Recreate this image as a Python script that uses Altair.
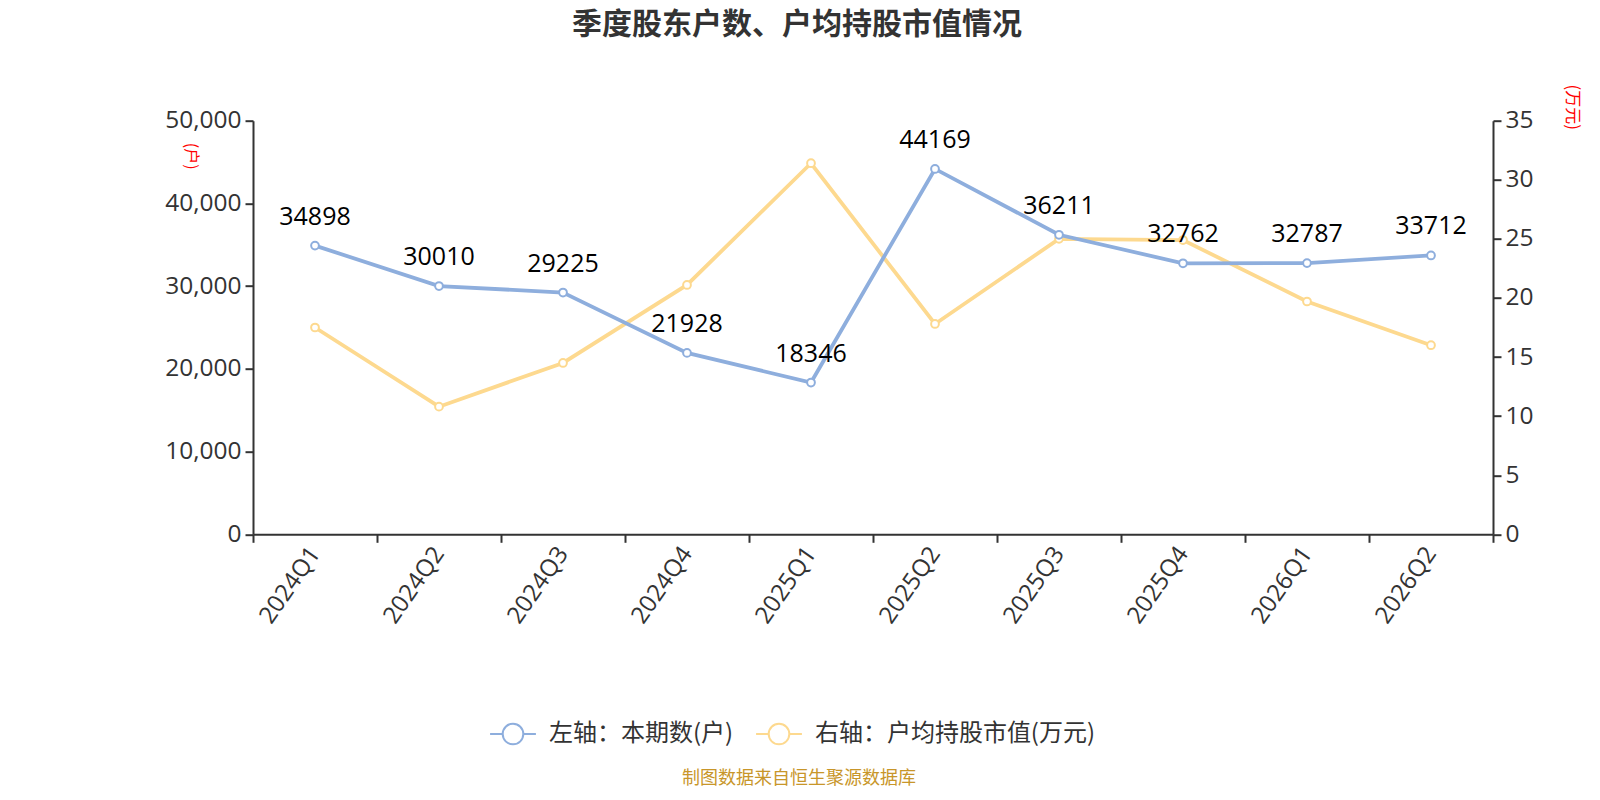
import altair as alt
import pandas as pd

quarters = ["2024Q1", "2024Q2", "2024Q3", "2024Q4", "2025Q1", "2025Q2", "2025Q3", "2025Q4", "2026Q1", "2026Q2"]
holders = [34898, 30010, 29225, 21928, 18346, 44169, 36211, 32762, 32787, 33712]
avg_value = [17.5, 10.8, 14.5, 21.1, 31.4, 17.8, 25.0, 24.9, 19.7, 16.0]

s_left = "左轴：本期数(户)"
s_right = "右轴：户均持股市值(万元)"
title_text = "季度股东户数、户均持股市值情况"
source_text = "制图数据来自恒生聚源数据库"

df_left = pd.DataFrame({"q": quarters, "v": holders, "s": s_left})
df_right = pd.DataFrame({"q": quarters, "v": avg_value, "s": s_right})

FONT = "Noto Sans CJK SC"
NUMFONT = "Open Sans"
BLUE = "#8eaedd"
YELLOW = "#fdd98f"

color = alt.Color("s:N", scale=alt.Scale(domain=[s_left, s_right], range=[BLUE, YELLOW]),
                  legend=alt.Legend(title=None, orient="none", direction="horizontal",
                                    legendX=236, legendY=589, labelFontSize=24, labelColor="#333",
                                    labelFont=FONT, columnPadding=18, symbolSize=2100, labelLimit=500,
                                    symbolType="M-1,0L-0.45,0M0.45,0L1,0M0.45,0A0.45,0.45,0,1,1,-0.45,0A0.45,0.45,0,1,1,0.45,0",
                                    symbolStrokeWidth=2, symbolFillColor="white", labelOffset=12))

x = alt.X("q:N", sort=quarters, title=None,
          scale=alt.Scale(paddingInner=0, paddingOuter=0),
          axis=alt.Axis(labelAngle=-55, labelFontSize=24, labelColor="#333", labelFont=NUMFONT,
                        tickBand="extent", domainColor="#333", tickColor="#333", tickSize=8,
                        domainWidth=2, tickWidth=2, labelPadding=7, grid=False))

yl = alt.Y("v:Q", scale=alt.Scale(domain=[0, 50000]),
           axis=alt.Axis(title="(户)", titleAngle=90, titleX=-71, titleY=35, titleColor="red",
                         titleFontSize=16, titleFontWeight="normal", titleFont=FONT,
                         values=[0, 10000, 20000, 30000, 40000, 50000], format=",.0f",
                         labelFontSize=24.5, labelColor="#333", labelFont=NUMFONT,
                         domainColor="#333", tickColor="#333", tickSize=8, domainWidth=2, tickWidth=2,
                         gridColor="#c8c8c8", gridWidth=1.5, labelPadding=4))

yr = alt.Y("v:Q", scale=alt.Scale(domain=[0, 35]),
           axis=alt.Axis(orient="right", title="(万元)", titleAngle=90, titleX=70, titleY=-14,
                         titleColor="red", titleFontSize=17, titleFontWeight="normal", titleFont=FONT,
                         values=[0, 5, 10, 15, 20, 25, 30, 35], format=".0f",
                         labelFontSize=24.5, labelColor="#333", labelFont=NUMFONT, grid=False,
                         domainColor="#333", tickColor="#333", tickSize=8, domainWidth=2, tickWidth=2,
                         labelPadding=4))

base_l = alt.Chart(df_left)
left = alt.layer(
    base_l.mark_line(strokeWidth=3.8).encode(x=x, y=yl, color=color),
    base_l.mark_point(filled=False, fill="white", size=60, strokeWidth=2, opacity=1).encode(x=x, y=yl, color=color),
    base_l.mark_text(fontSize=25, dy=-29, color="black", font=NUMFONT).encode(x=x, y=yl, text="v:Q"),
)

base_r = alt.Chart(df_right)
right = alt.layer(
    base_r.mark_line(strokeWidth=3.8).encode(x=x, y=yr, color=color),
    base_r.mark_point(filled=False, fill="white", size=60, strokeWidth=2, opacity=1).encode(x=x, y=yr, color=color),
)

source = alt.Chart(pd.DataFrame({"t": [source_text]})).mark_text(
    fontSize=18, color="#c8962a", font=FONT).encode(
    text="t:N", x=alt.value(546), y=alt.value(658))

chart = alt.layer(right, left, source).resolve_scale(y="independent").properties(
    width=1240, height=413.6,
    autosize=alt.AutoSizeParams(type="none"),
    padding={"left": 245, "top": 112.7, "right": 98, "bottom": 256},
    title=alt.TitleParams(title_text, fontSize=30, fontWeight="bold", color="#333", font=FONT,
                          anchor="middle", dx=-76, offset=44),
).configure_view(stroke=None)

chart.save("out.html", embed_options={"renderer": "svg", "actions": False})
